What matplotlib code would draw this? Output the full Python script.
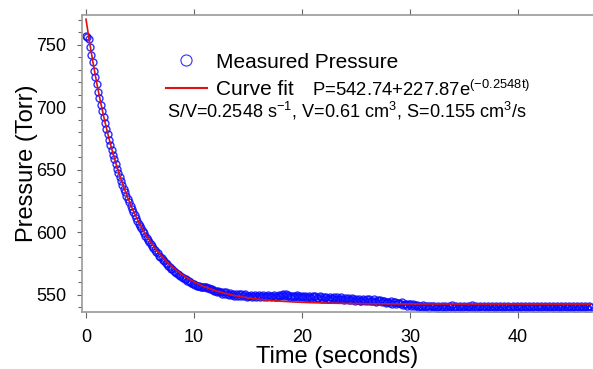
import numpy as np
import matplotlib
matplotlib.use("Agg")
import matplotlib.pyplot as plt
from matplotlib.lines import Line2D

plt.rcParams["font.family"] = ["Liberation Sans", "DejaVu Sans"]
plt.rcParams["mathtext.fontset"] = "custom"
plt.rcParams["mathtext.rm"] = "Liberation Sans"
plt.rcParams["mathtext.it"] = "Liberation Sans:italic"

# measured pressure (Torr), one sample every 0.125 s starting at t=0
# (first value is t=0, then one row per second)
dt = 0.125
pressure = [
    757.5,
    756.5, 755.0, 748.5, 742.0, 736.0, 729.5, 724.0, 718.5,
    712.5, 707.5, 702.0, 697.5, 692.0, 687.5, 683.0, 678.5,
    674.0, 670.0, 666.0, 662.0, 658.5, 654.5, 651.0, 647.5,
    644.5, 641.0, 638.0, 635.0, 632.0, 629.5, 626.5, 624.0,
    621.0, 618.5, 616.5, 614.0, 611.5, 609.5, 607.0, 605.0,
    603.5, 601.0, 599.5, 597.5, 595.5, 594.0, 592.0, 590.5,
    589.0, 587.5, 586.0, 584.5, 583.5, 581.5, 580.5, 579.5,
    578.0, 577.0, 575.5, 574.5, 573.5, 572.5, 571.0, 570.5,
    569.5, 568.5, 567.5, 567.0, 566.0, 565.0, 564.5, 563.5,
    563.0, 562.5, 561.5, 561.0, 560.0, 559.5, 559.0, 558.5,
    558.0, 557.5, 557.5, 557.0, 556.5, 556.5, 556.0, 556.0,
    556.0, 555.5, 555.5, 555.0, 554.5, 554.0, 553.5, 553.0,
    552.5, 553.5, 552.0, 552.5, 551.0, 552.5, 551.0, 552.0,
    551.0, 550.0, 551.5, 550.0, 551.0, 549.5, 550.5, 549.5,
    550.5, 549.0, 550.5, 549.0, 550.0, 550.5, 548.5, 549.5,
    549.0, 550.0, 548.0, 549.5, 550.0, 548.5, 549.0, 550.0,
    548.0, 549.5, 550.0, 548.5, 549.0, 548.0, 550.0, 549.0,
    548.5, 549.5, 550.0, 548.5, 548.0, 549.5, 550.0, 549.0,
    550.0, 550.5, 549.5, 550.5, 549.0, 550.0, 548.5, 549.5,
    549.0, 548.0, 549.5, 550.0, 548.5, 549.5, 548.0, 549.0,
    548.0, 549.5, 548.5, 547.5, 549.5, 548.5, 547.5, 549.0,
    548.0, 549.0, 547.5, 547.5, 549.0, 548.0, 547.0, 548.5,
    547.5, 548.5, 547.0, 547.0, 548.5, 547.5, 546.5, 548.0,
    547.0, 548.0, 546.5, 546.5, 548.0, 547.0, 546.0, 547.5,
    546.5, 547.5, 546.0, 546.0, 547.5, 546.5, 545.5, 547.0,
    546.0, 547.0, 545.5, 545.5, 547.0, 546.0, 545.0, 546.5,
    545.5, 546.5, 545.0, 545.0, 546.5, 545.5, 544.5, 546.0,
    545.0, 546.0, 544.0, 545.0, 545.0, 543.5, 544.5, 544.5,
    543.5, 545.0, 543.0, 544.0, 544.0, 542.5, 543.5, 543.5,
    542.5, 544.0, 542.0, 543.0, 543.0, 541.5, 542.5, 542.5,
    541.5, 543.0, 541.0, 542.0, 542.0, 540.5, 541.5, 541.5,
    540.5, 542.0, 540.0, 541.0, 541.5, 539.5, 541.0, 541.0,
    540.0, 541.5, 539.5, 540.5, 541.5, 539.0, 540.5, 541.5,
    539.5, 541.5, 540.5, 539.0, 541.0, 540.0, 542.0, 539.5,
    540.5, 541.5, 539.0, 540.0, 541.5, 539.5, 540.5, 541.0,
    539.0, 540.5, 541.5, 540.0, 539.5, 542.0, 540.0, 539.5,
    541.0, 539.5, 540.5, 541.5, 539.0, 540.0, 541.5, 540.5,
    539.5, 541.0, 540.0, 539.0, 541.5, 540.5, 539.5, 541.0,
    540.5, 539.0, 541.5, 540.0, 539.5, 541.0, 540.5, 539.0,
    541.5, 540.0, 539.5, 541.0, 540.5, 539.0, 541.5, 540.0,
    539.5, 541.0, 540.5, 539.0, 541.5, 540.0, 539.5, 541.0,
    540.5, 539.5, 541.5, 540.0, 539.0, 541.0, 540.5, 539.5,
    541.0, 540.0, 539.0, 541.5, 540.5, 539.5, 541.0, 540.0,
    539.5, 541.5, 540.0, 539.0, 541.0, 540.5, 539.5, 541.5,
    540.0, 539.0, 541.0, 540.5, 539.5, 541.5, 540.0, 539.5,
    541.0, 540.0, 539.0, 541.5, 540.5, 539.5, 541.0, 540.0,
    539.5, 541.0, 540.5, 539.0, 541.0, 540.0,
]
t = np.arange(len(pressure)) * dt

# fit parameters as printed on the chart: P = p_inf + a*exp(-k*t)
p_inf, amp, k = 542.74, 227.87, 0.2548
t_fit = np.linspace(0, t[-1], 400)
p_fit = p_inf + amp * np.exp(-k * t_fit)

W, H = 593, 369
fig = plt.figure(figsize=(W / 100, H / 100), dpi=100)
ax = fig.add_axes([82 / W, 1 - 312 / H, 1 - 82 / W, (312 - 15) / H])


def axfrac(px, py):
    return (px - 82) / (W - 82), (312 - py) / (312 - 15)


ax.plot(t, pressure, "o", ms=5, mfc="none", mec="#0a0aff", mew=1.0, alpha=0.85)
ax.plot(t_fit, p_fit, "-", color="#e01010", lw=1.2)

ax.set_xlim(-0.37, 46.95)
ax.set_ylim(536.4, 774)
ax.set_xticks([0, 10, 20, 30, 40])
ax.set_yticks([550, 600, 650, 700, 750])
ax.set_yticks(np.arange(540, 771, 10), minor=True)

gray = "#9a9a9a"
for side in ["left", "bottom", "top"]:
    ax.spines[side].set_color(gray)
    ax.spines[side].set_linewidth(1.2)
ax.spines["right"].set_visible(False)

ax.tick_params(axis="y", which="both", direction="out", length=3.5, width=0.8,
               color="#666666", labelsize=13, pad=8)
ax.tick_params(axis="x", which="both", direction="out", length=4.5, width=0.8,
               color="#666666", labelsize=13, pad=8, top=True)
ax.tick_params(axis="y", which="minor", length=3)

ax.set_xlabel("Time (seconds)", fontsize=17, labelpad=0)
ax.set_ylabel("Pressure (Torr)", fontsize=17, labelpad=-2)

handles = [
    Line2D([], [], ls="none", marker="o", ms=8, mfc="none", mec="#3030ff", mew=0.8),
    Line2D([], [], color="#e01010", lw=1.5),
]
lx, ly = axfrac(166, 52.5)
ax.legend(handles, ["Measured Pressure", "Curve fit"], loc="upper left",
          bbox_to_anchor=(lx, ly), frameon=False, fontsize=15,
          handlelength=1.95, handletextpad=0.45, labelspacing=0.4, borderpad=0,
          borderaxespad=0)

x, y = axfrac(312, 96)
ax.text(x, y, r"P=542.74+227.87e$^{\mathrm{(-0.2548t)}}$", transform=ax.transAxes,
        fontsize=13.3, va="baseline", ha="left")
x, y = axfrac(167, 117.5)
ax.text(x, y, r"S/V=0.2548 s$^{\mathrm{-1}}$, V=0.61 cm$^{\mathrm{3}}$, S=0.155 cm$^{\mathrm{3}}$/s",
        transform=ax.transAxes, fontsize=13.1, va="baseline", ha="left")

fig.savefig("out.png", dpi=100)
